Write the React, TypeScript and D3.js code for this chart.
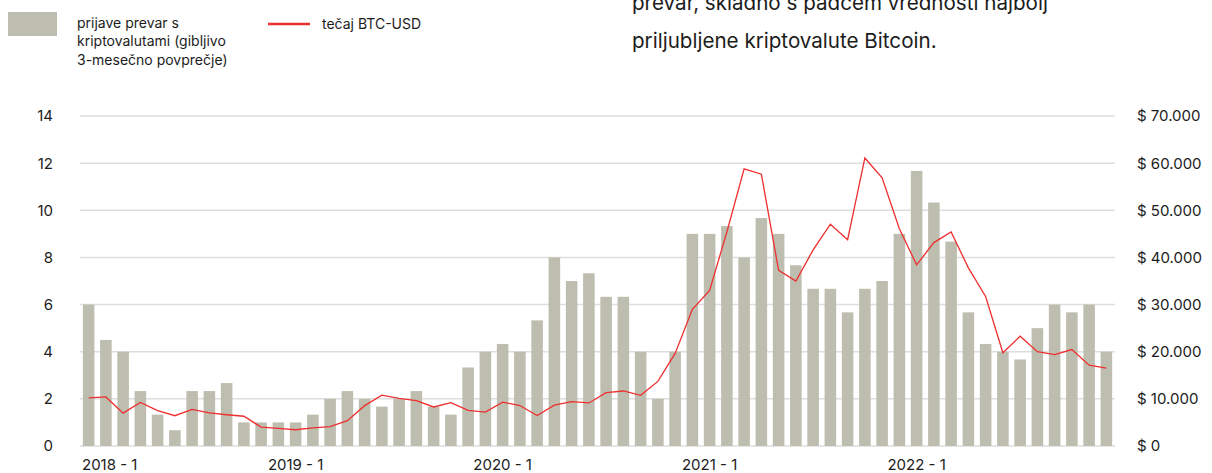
import React from "react";
import * as d3 from "d3";

const months: string[] = [];
for (let y = 2018; y <= 2022; y++) for (let m = 1; m <= 12; m++) months.push(`${y} - ${m}`);

const fraudReports: number[] = [
  6, 4.5, 4, 2.33, 1.33, 0.67, 2.33, 2.33, 2.67, 1, 1, 1,
  1, 1.33, 2, 2.33, 2, 1.67, 2, 2.33, 1.67, 1.33, 3.33, 4,
  4.33, 4, 5.33, 8, 7, 7.33, 6.33, 6.33, 4, 2, 4, 9,
  9, 9.33, 8, 9.67, 9, 7.67, 6.67, 6.67, 5.67, 6.67, 7, 9,
  11.67, 10.33, 8.67, 5.67, 4.33, 4, 3.67, 5, 6, 5.67, 6, 4,
];

const btcUsd: number[] = [
  10220, 10400, 6970, 9250, 7490, 6420, 7780, 7030, 6630, 6310, 4010, 3740,
  3450, 3860, 4120, 5360, 8560, 10800, 10080, 9620, 8280, 9180, 7560, 7200,
  9320, 8580, 6480, 8680, 9420, 9130, 11320, 11670, 10760, 13700, 19650, 28980,
  33000, 45400, 58800, 57650, 37250, 34980, 41600, 47050, 43750, 61100, 56900, 46100,
  38430, 43150, 45400, 37780, 31720, 19790, 23280, 20020, 19400, 20450, 17140, 16500,
];

const leftTicks: number[] = [0, 2, 4, 6, 8, 10, 12, 14];
const rightTicks: number[] = [0, 10000, 20000, 30000, 40000, 50000, 60000, 70000];
const xTickLabels: string[] = ["2018 - 1", "2019 - 1", "2020 - 1", "2021 - 1", "2022 - 1"];

const legendBarLines: string[] = ["prijave prevar s", "kriptovalutami (gibljivo", "3-mesečno povprečje)"];
const legendLineLabel = "tečaj BTC-USD";
const noteLines: string[] = [
  "prevar, skladno s padcem vrednosti najbolj",
  "priljubljene kriptovalute Bitcoin.",
];

const W = 1212;
const H = 473;
const FONT = "Inter, 'Liberation Sans', Arial, sans-serif";
const TEXT = "#1c1c1c";
const BAR = "#bebeb0";
const RED = "#ee2f2f";
const GRID = "#dedede";

export default function App() {
  const x = d3.scaleBand<string>().domain(months).range([80, 1115]).paddingInner(0.33).paddingOuter(0.165);
  const yL = d3.scaleLinear().domain([0, 14]).range([446, 116]);
  const yR = d3.scaleLinear().domain([0, 70000]).range([446, 116]);
  const fmt = (v: number) => "$ " + d3.format(",")(v).replace(/,/g, ".");
  const line = d3
    .line<number>()
    .x((_, i) => (x(months[i]) as number) + x.bandwidth() / 2)
    .y((d) => yR(d));

  return (
    <svg
      width={W}
      height={H}
      style={{ position: "absolute", left: 0, top: 0, background: "#fff" }}
      fontFamily={FONT}
    >
      {/* note text top right */}
      {noteLines.map((t, i) => (
        <text key={t} x={632} y={10 + i * 38} fontSize={20.6} fill={TEXT}>
          {t}
        </text>
      ))}

      {/* legend */}
      <rect x={8} y={12} width={49} height={24} fill={BAR} />
      {legendBarLines.map((t, i) => (
        <text key={t} x={77} y={28 + i * 18.4} fontSize={14} fill={TEXT}>
          {t}
        </text>
      ))}
      <line x1={268} x2={310} y1={24} y2={24} stroke={RED} strokeWidth={2.5} />
      <text x={322} y={29} fontSize={14} fill={TEXT}>
        {legendLineLabel}
      </text>

      {/* grid */}
      {leftTicks.map((t) => (
        <line key={t} x1={80} x2={1115} y1={yL(t)} y2={yL(t)} stroke={GRID} strokeWidth={1.5} />
      ))}

      {/* bars */}
      {fraudReports.map((v, i) => (
        <rect
          key={i}
          x={x(months[i])}
          y={yL(v)}
          width={x.bandwidth()}
          height={yL(0) - yL(v)}
          fill={BAR}
        />
      ))}

      {/* line */}
      <path d={line(btcUsd) || ""} fill="none" stroke={RED} strokeWidth={1.3} strokeLinejoin="miter" />

      {/* left axis */}
      {leftTicks.map((t) => (
        <text key={t} x={53} y={yL(t)} dy="0.36em" textAnchor="end" fontSize={15} fill={TEXT}>
          {t}
        </text>
      ))}

      {/* right axis */}
      {rightTicks.map((t) => (
        <text key={t} x={1137} y={yR(t)} dy="0.36em" textAnchor="start" fontSize={15} fill={TEXT}>
          {fmt(t)}
        </text>
      ))}

      {/* x axis labels */}
      {xTickLabels.map((t, i) => {
        const cx = (x(t) as number) + x.bandwidth() / 2;
        return (
          <text
            key={t}
            x={i === 0 ? 82 : cx}
            y={469.5}
            textAnchor={i === 0 ? "start" : "middle"}
            fontSize={15}
            fill={TEXT}
          >
            {t}
          </text>
        );
      })}
    </svg>
  );
}
